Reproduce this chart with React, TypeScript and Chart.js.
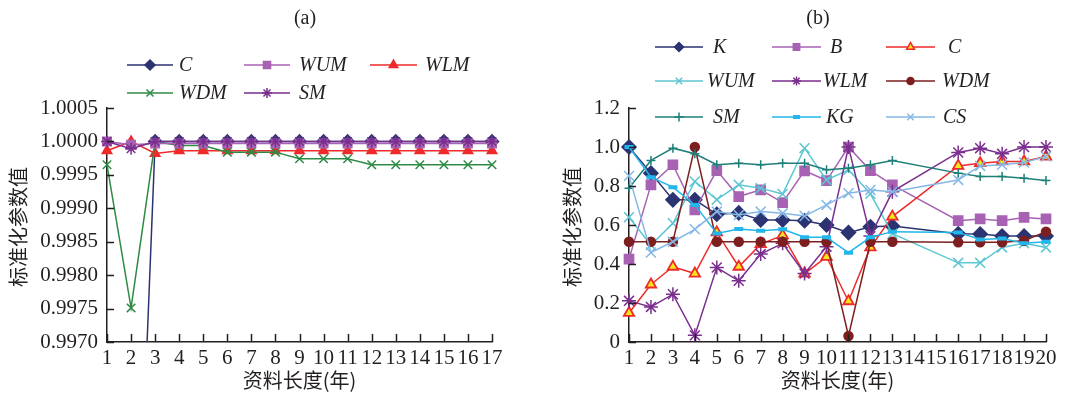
import React, { useEffect, useRef } from 'react';
import { Chart, registerables } from 'chart.js';
import { drawPoint } from 'chart.js/helpers';

Chart.register(...registerables);

// ---------- Panel (a) data ----------
const yearsA = ['1', '2', '3', '4', '5', '6', '7', '8', '9', '10', '11', '12', '13', '14', '15', '16', '17'];
const yTicksA = [0.997, 0.9975, 0.998, 0.9985, 0.999, 0.9995, 1.0, 1.0005];
const aC = [0.985, 0.991, 1.0, 1.0, 1.0, 1.0, 1.0, 1.0, 1.0, 1.0, 1.0, 1.0, 1.0, 1.0, 1.0, 1.0, 1.0];
const aWUM = [1.0, 0.99995, 0.99997, 0.99997, 0.99997, 0.99997, 0.99997, 0.99997, 0.99997, 0.99997, 0.99997, 0.99997, 0.99997, 0.99997, 0.99997, 0.99997, 0.99997];
const aWLM = [0.99986, 1.0, 0.99982, 0.99986, 0.99986, 0.99986, 0.99986, 0.99986, 0.99986, 0.99986, 0.99986, 0.99986, 0.99986, 0.99986, 0.99986, 0.99986, 0.99986];
const aWDM = [0.99965, 0.99751, 1.0, 0.99994, 0.99994, 0.99984, 0.99984, 0.99984, 0.99974, 0.99974, 0.99974, 0.99965, 0.99965, 0.99965, 0.99965, 0.99965, 0.99965];
const aSM = [1.0, 0.99989, 1.0, 1.0, 1.0, 1.0, 1.0, 1.0, 1.0, 1.0, 1.0, 1.0, 1.0, 1.0, 1.0, 1.0, 1.0];

// ---------- Panel (b) data ----------
const yearsB = ['1', '2', '3', '4', '5', '6', '7', '8', '9', '10', '11', '12', '13', '14', '15', '16', '17', '18', '19', '20'];
const yTicksB = [0, 0.2, 0.4, 0.6, 0.8, 1.0, 1.2];
const bK = [1.0, 0.866, 0.729, 0.729, 0.655, 0.662, 0.626, 0.626, 0.622, 0.6, 0.561, 0.591, 0.595, null, null, 0.555, 0.554, 0.543, 0.543, 0.543];
const bB = [0.425, 0.806, 0.909, 0.677, 0.879, 0.746, 0.78, 0.715, 0.878, 0.828, 1.0, 0.879, 0.806, null, null, 0.622, 0.631, 0.622, 0.639, 0.631];
const bC = [0.149, 0.295, 0.386, 0.351, 0.562, 0.386, 0.502, 0.547, 0.351, 0.437, 0.209, 0.485, 0.643, null, null, 0.903, 0.917, 0.926, 0.926, 0.951];
const bWUM = [0.64, 0.497, 0.609, 0.823, 0.73, 0.806, 0.789, 0.759, 0.994, 0.831, 0.883, 0.76, 0.555, null, null, 0.406, 0.406, 0.485, 0.506, 0.485];
const bWLM = [0.211, 0.18, 0.245, 0.034, 0.382, 0.314, 0.451, 0.506, 0.351, 0.489, 1.0, 0.543, 0.771, null, null, 0.972, 0.994, 0.965, 1.0, 1.0];
const bWDM = [0.514, 0.514, 0.514, 1.0, 0.514, 0.514, 0.514, 0.514, 0.514, 0.514, 0.031, 0.514, 0.514, null, null, 0.511, 0.511, 0.511, 0.519, 0.566];
const bSM = [0.789, 0.931, 0.994, 0.965, 0.909, 0.917, 0.909, 0.917, 0.917, 0.883, 0.891, 0.909, 0.931, null, null, 0.866, 0.849, 0.849, 0.84, 0.828];
const bKG = [1.0, 0.845, 0.794, 0.703, 0.557, 0.579, 0.571, 0.578, 0.537, 0.537, 0.458, 0.537, 0.566, null, null, 0.562, 0.526, 0.531, 0.506, 0.514];
const bCS = [0.852, 0.459, 0.514, 0.578, 0.669, 0.651, 0.669, 0.66, 0.646, 0.703, 0.763, 0.78, 0.771, null, null, 0.831, 0.903, 0.909, 0.92, 0.951];

const AXIS = '#231f20';
const SERIF = '"Liberation Serif", "DejaVu Serif", serif';
const CJK = '"Noto Sans CJK SC", sans-serif';

const NAVY = '#2b3371';
const LPURP = '#a862b4';
const RED = '#ee2a2a';
const GREEN = '#2e8b45';
const DPURP = '#7a2e8e';
const CYAN = '#5cc6d2';
const MAROON = '#7d1f1f';
const TEAL = '#1d7f78';
const SKY = '#22b6ea';
const LBLUE = '#85b8e6';
const YELLOW = '#f3e71c';

type LegendItem = { ds: number; x1: number; x2: number; y: number; tx: number; r: number };

function ds(label: string, data: (number | null)[], color: string, style: string, radius: number, opts: any = {}) {
  return {
    label,
    data,
    borderColor: color,
    backgroundColor: color,
    borderWidth: 1.5,
    pointStyle: style,
    pointRadius: radius,
    pointHoverRadius: radius,
    pointBackgroundColor: color,
    pointBorderColor: color,
    pointBorderWidth: 1.5,
    tension: 0,
    spanGaps: true,
    ...opts,
  };
}

function makePlugin(title: string, titleX: number, yTitleX: number, legend: LegendItem[], legendPoint: (i: number) => any) {
  return {
    id: 'custom' + title,
    afterDraw(chart: any) {
      const ctx = chart.ctx as CanvasRenderingContext2D;
      const area = chart.chartArea;
      const xs = chart.scales.x;
      const ys = chart.scales.y;
      ctx.save();
      // inward ticks
      ctx.strokeStyle = AXIS;
      ctx.lineWidth = 1.5;
      ctx.beginPath();
      for (let i = 0; i < ys.ticks.length; i++) {
        const y = Math.round(ys.getPixelForTick(i)) + 0.5;
        ctx.moveTo(area.left, y);
        ctx.lineTo(area.left + 7, y);
      }
      for (let i = 0; i < xs.ticks.length; i++) {
        const x = Math.round(xs.getPixelForTick(i)) + 0.5;
        ctx.moveTo(x, area.bottom);
        ctx.lineTo(x, area.bottom - 8);
      }
      ctx.stroke();

      // titles
      ctx.fillStyle = AXIS;
      ctx.textAlign = 'center';
      ctx.textBaseline = 'middle';
      ctx.font = `20px ${SERIF}`;
      ctx.fillText(title, titleX, 19);
      ctx.font = `20px ${CJK}`;
      ctx.fillText('资料长度(年)', (area.left + area.right) / 2, 380);
      ctx.save();
      ctx.translate(yTitleX, (area.top + area.bottom) / 2 + 2);
      ctx.rotate(-Math.PI / 2);
      ctx.fillText('标准化参数值', 0, 0);
      ctx.restore();

      // legend
      ctx.font = `italic 20px ${SERIF}`;
      ctx.textAlign = 'left';
      legend.forEach((it) => {
        const d = chart.data.datasets[it.ds];
        ctx.strokeStyle = d.borderColor;
        ctx.lineWidth = 1.5;
        ctx.beginPath();
        ctx.moveTo(it.x1, it.y);
        ctx.lineTo(it.x2, it.y);
        ctx.stroke();
        const p = legendPoint(it.ds);
        ctx.fillStyle = p.fill;
        ctx.strokeStyle = p.stroke;
        ctx.lineWidth = p.bw;
        drawPoint(ctx, { pointStyle: d.pointStyle, rotation: 0, radius: it.r, borderWidth: p.bw }, (it.x1 + it.x2) / 2, it.y);
        ctx.fillStyle = AXIS;
        ctx.fillText(d.label, it.tx, it.y + 1);
      });
      ctx.restore();
    },
  };
}

function baseOptions(yTicks: number[], fmt: (v: number) => string, yMin: number, yMax: number, yWidth: number, padRight: number) {
  return {
    responsive: false,
    animation: false,
    devicePixelRatio: 1,
    layout: { padding: { left: 0, right: padRight, top: 108, bottom: 0 } },
    plugins: { legend: { display: false }, tooltip: { enabled: false }, title: { display: false } },
    scales: {
      x: {
        type: 'category',
        offset: false,
        grid: { display: false, drawTicks: false },
        border: { display: true, color: AXIS, width: 1.5 },
        ticks: {
          autoSkip: false,
          maxRotation: 0,
          minRotation: 0,
          padding: 4,
          color: AXIS,
          font: { family: SERIF, size: 21 },
        },
        afterFit(scale: any) {
          scale.height = 51;
        },
      },
      y: {
        type: 'linear',
        min: yMin,
        max: yMax,
        grid: { display: false, drawTicks: false },
        border: { display: true, color: AXIS, width: 1.5 },
        ticks: {
          padding: 9,
          color: AXIS,
          font: { family: SERIF, size: 21 },
          callback: (v: any) => fmt(Number(v)),
        },
        afterBuildTicks(scale: any) {
          scale.ticks = yTicks.map((v) => ({ value: v }));
        },
        afterFit(scale: any) {
          scale.width = yWidth;
        },
      },
    },
  };
}

export default function App() {
  const refA = useRef<HTMLCanvasElement>(null);
  const refB = useRef<HTMLCanvasElement>(null);

  useEffect(() => {
    // ---- chart (a)
    const dsA = [
      ds('C', aC, NAVY, 'rectRot', 6.5, { order: 5 }),
      ds('WUM', aWUM, LPURP, 'rect', 6, { order: 2 }),
      ds('WLM', aWLM, RED, 'triangle', 5.5, { order: 4 }),
      ds('WDM', aWDM, GREEN, 'crossRot', 6, { order: 3, pointBackgroundColor: 'transparent' }),
      ds('SM', aSM, DPURP, 'star', 6, { order: 1, pointBackgroundColor: 'transparent' }),
    ];
    const legendA: LegendItem[] = [
      { ds: 0, x1: 127, x2: 173, y: 65, tx: 179, r: 5 },
      { ds: 1, x1: 244, x2: 290, y: 65, tx: 299, r: 5 },
      { ds: 2, x1: 370, x2: 417, y: 65, tx: 425, r: 5 },
      { ds: 3, x1: 127, x2: 173, y: 93, tx: 179, r: 5 },
      { ds: 4, x1: 244, x2: 290, y: 93, tx: 299, r: 5 },
    ];
    const ptA = (i: number) => {
      const c = dsA[i].borderColor;
      return { fill: c, stroke: c, bw: 1.5 };
    };
    const chartA = new Chart(refA.current!, {
      type: 'line',
      data: { labels: yearsA, datasets: dsA as any },
      options: baseOptions(yTicksA, (v) => v.toFixed(4), 0.997, 1.0005, 107, 38) as any,
      plugins: [makePlugin('(a)', 305, 18, legendA, ptA)],
    });

    // ---- chart (b)
    const dsB = [
      ds('K', bK, NAVY, 'rectRot', 7, { order: 9 }),
      ds('B', bB, LPURP, 'rect', 6.5, { order: 8 }),
      ds('C', bC, RED, 'triangle', 6, { order: 7, pointBackgroundColor: YELLOW, pointBorderWidth: 1.8 }),
      ds('WUM', bWUM, CYAN, 'crossRot', 7, { order: 6, pointBackgroundColor: 'transparent' }),
      ds('WLM', bWLM, DPURP, 'star', 7, { order: 5, pointBackgroundColor: 'transparent' }),
      ds('WDM', bWDM, MAROON, 'circle', 4.5, { order: 4 }),
      ds('SM', bSM, TEAL, 'cross', 4.5, { order: 3, pointBackgroundColor: 'transparent' }),
      ds('KG', bKG, SKY, 'line', 4.5, { order: 2, pointBorderWidth: 4 }),
      ds('CS', bCS, LBLUE, 'crossRot', 7, { order: 1, pointBackgroundColor: 'transparent' }),
    ];
    const colX = [
      [125, 173],
      [242, 291],
      [356, 405],
    ];
    const rowY = [47, 81, 117];
    const textX = [183, 300, 418, 177, 293, 412, 183, 296, 413];
    const legendB: LegendItem[] = dsB.map((_, i) => ({
      ds: i,
      x1: colX[i % 3][0],
      x2: colX[i % 3][1],
      y: rowY[Math.floor(i / 3)],
      tx: textX[i],
      r: i === 5 ? 3.5 : i === 7 ? 3.5 : 4.5,
    }));
    const ptB = (i: number) => {
      const d: any = dsB[i];
      if (i === 2) return { fill: YELLOW, stroke: RED, bw: 1.5 };
      if (i === 7) return { fill: d.borderColor, stroke: d.borderColor, bw: 4 };
      return { fill: d.borderColor, stroke: d.borderColor, bw: 1.5 };
    };
    const chartB = new Chart(refB.current!, {
      type: 'line',
      data: { labels: yearsB, datasets: dsB as any },
      options: baseOptions(yTicksB, (v) => (v === 0 ? '0' : v.toFixed(1)), 0, 1.2, 99, 19) as any,
      plugins: [makePlugin('(b)', 288, 42, legendB, ptB)],
    });

    return () => {
      chartA.destroy();
      chartB.destroy();
    };
  }, []);

  return (
    <div style={{ position: 'fixed', left: 0, top: 0, width: 1065, height: 393, background: '#fff' }}>
      <canvas ref={refA} width={530} height={393} style={{ position: 'absolute', left: 0, top: 0, width: 530, height: 393 }} />
      <canvas ref={refB} width={535} height={393} style={{ position: 'absolute', left: 530, top: 0, width: 535, height: 393 }} />
    </div>
  );
}
